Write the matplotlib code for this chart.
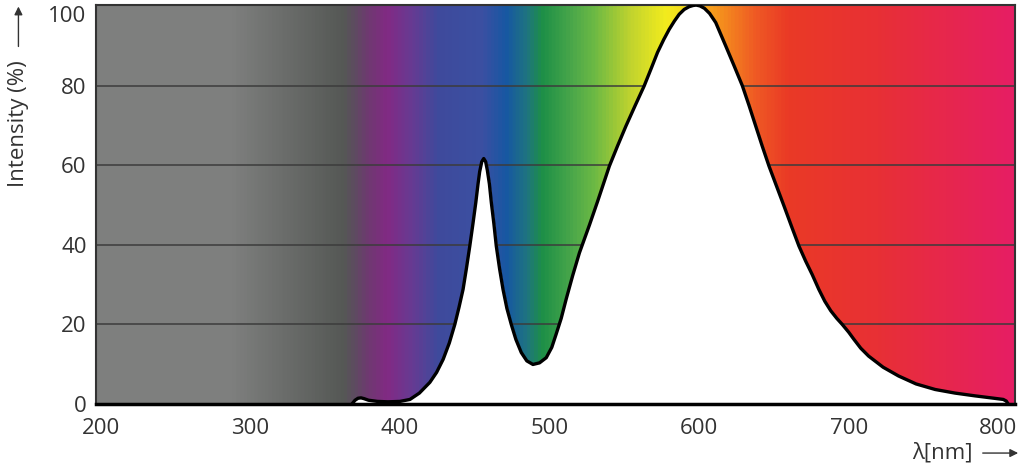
import numpy as np
import matplotlib.pyplot as plt
from matplotlib.colors import LinearSegmentedColormap
from matplotlib.patches import FancyArrowPatch

plt.rcParams['font.family'] = ['Open Sans', 'DejaVu Sans']

# Espectro (comprimento de onda em nm, intensidade em %)
wl = [368, 370, 372, 374, 376, 379, 385, 392, 400, 406.7, 413, 420, 424.5, 428.9,
      433, 436.7, 439.5, 442.2, 444.5, 446.7, 448.8, 450.7, 452.2, 453.3, 454.7,
      456, 457.3, 458.4, 459.8, 461.1, 462.8, 464.4, 466.6, 468.9, 471.5, 474.4,
      477.5, 481.1, 484.8, 488.9, 493.3, 497.8, 501.5, 504.4, 507.8, 511.1,
      515.5, 520, 526.7, 532.2, 540, 545.5, 551.1, 557.2, 563.3, 568, 572.2,
      576.3, 580, 583.5, 586.7, 590, 593.3, 596, 598, 600.5, 603.5, 607, 611.1,
      617.8, 623.4, 628.9, 633.4, 637.8, 642.2, 646.7, 651.7, 656.7, 661.7,
      666.7, 671.2, 675.6, 680, 684, 688, 692, 695.6, 700, 703.3, 708, 713.3, 723,
      733.3, 745, 757.8, 771, 784.4, 795, 803.3, 805.3, 806.5]
intensity = [0, 0.9, 1.4, 1.5, 1.3, 0.9, 0.6, 0.5, 0.6, 1.1, 2.7, 5.4, 7.9, 11.2,
             15.3, 20, 24.3, 28.8, 34.2, 39.7, 45.3, 50.6, 55.3, 58.4, 60.9,
             61.7, 60.9, 58.8, 55.3, 50.6, 45.3, 39.7, 34, 28.8, 24, 20,
             16.2, 12.9, 10.8, 9.9, 10.3, 11.6, 14.2, 17.5, 21.5, 26.3,
             32.3, 38, 45, 51, 59.8, 64.9, 69.9, 75, 80, 84.4, 88.4,
             91.6, 94.2, 96.3, 98, 99.2, 99.9, 100.2, 100.3, 100.1, 99.5, 98.2, 95.9,
             90, 85, 80, 75, 69.9, 64.8, 59.8, 54.8, 49.8, 44.7,
             39.7, 35.9, 32.5, 28.8, 25.8, 23.4, 21.5, 20, 18, 16.3, 14, 12, 9.2,
             7, 5, 3.6, 2.7, 2, 1.5, 1.1, 0.7, 0]

# Cores do fundo (gradiente do espectro)
grad_nm = [197, 285, 320, 362, 370, 378, 391, 407, 425, 455, 471, 485, 495,
           515, 530, 555, 578, 592, 607, 638, 660, 720, 811]
grad_col = ['#7e7f7e', '#7f807f', '#6c6e6c', '#555855', '#5f4a62', '#6e3a70',
            '#822a84', '#683a92', '#3f4a9c', '#3b50a2', '#1757a3', '#1f7580',
            '#1d8f47', '#4aa74a', '#6cb944', '#c2d42e', '#f3ec1d', '#f5d81d',
            '#f7a21b', '#ef5a24', '#ea3a26', '#e83035', '#e61e64']

yticks = [0, 20, 40, 60, 80, 100]
xticks = [200, 300, 400, 500, 600, 700, 800]

x0, x1 = 197, 811
y0, y1 = 0, 100.4

fig = plt.figure(figsize=(10.24, 4.69), dpi=100)
ax = fig.add_axes([0.094, 0.139, 0.897, 0.851])

pos = [(v - x0) / (x1 - x0) for v in grad_nm]
cmap = LinearSegmentedColormap.from_list('espectro', list(zip(pos, grad_col)))
grad = np.linspace(0, 1, 1200).reshape(1, -1)
ax.imshow(grad, cmap=cmap, aspect='auto', extent=[x0, x1, y0, y1], zorder=0)

for y in yticks[1:-1]:
    ax.axhline(y, color='#3c3c3c', lw=1.1, zorder=1)

ax.fill_between(wl, intensity, 0, color='white', zorder=2)
ax.plot(wl, intensity, color='black', lw=2.4, zorder=3,
        solid_joinstyle='round', solid_capstyle='round')

ax.set_xlim(x0, x1)
ax.set_ylim(y0, y1)
ax.set_xticks(xticks)
ax.set_yticks(yticks)
ax.tick_params(length=0, labelsize=16, labelcolor='#333333')
ax.tick_params(axis='x', pad=10)
ax.tick_params(axis='y', pad=7)
ax.get_yticklabels()[-1].set_va('top')
for s in ax.spines.values():
    s.set_color('#333333')
    s.set_linewidth(1.5)
ax.spines['bottom'].set_color('black')
ax.spines['bottom'].set_linewidth(2.5)

# Rótulos com setas
fig.text(0.018, 0.737, 'Intensity (%)', rotation=90, ha='center', va='center',
         fontsize=16, color='#333333')
fig.add_artist(FancyArrowPatch(
    (0.018, 0.895), (0.018, 0.992), transform=fig.transFigure,
    arrowstyle='-|>', mutation_scale=12, color='#333333', lw=1))
fig.text(0.92, 0.034, 'λ[nm]', ha='center', va='center', fontsize=16,
         color='#333333')
fig.add_artist(FancyArrowPatch(
    (0.957, 0.034), (0.997, 0.034), transform=fig.transFigure,
    arrowstyle='-|>', mutation_scale=12, color='#333333', lw=1))

fig.savefig('out.png', dpi=100)
